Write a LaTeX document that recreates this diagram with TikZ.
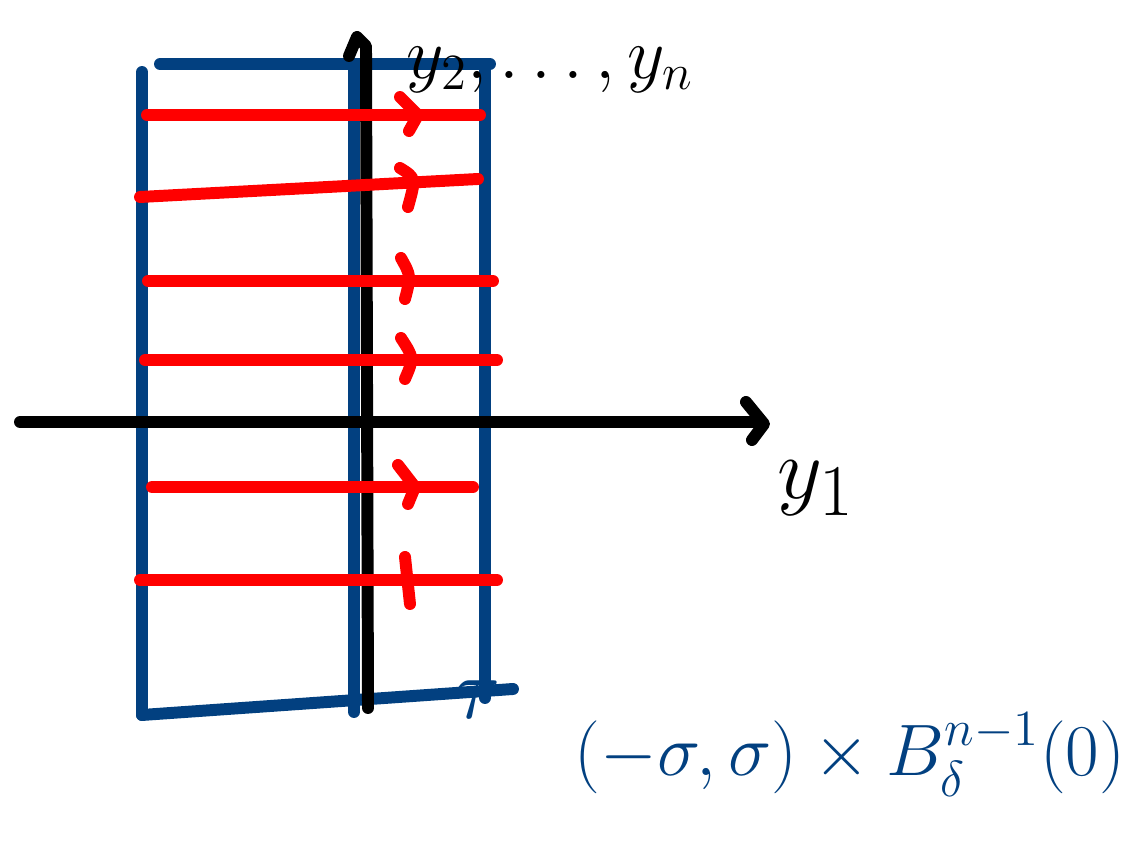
\documentclass[tikz,border=0pt]{standalone}
\usepackage{amsmath,amssymb}
\usetikzlibrary{arrows.meta}
\definecolor{inkblue}{RGB}{2, 64, 128}
\definecolor{inkred}{RGB}{255, 0, 0}

\begin{document}
\begin{tikzpicture}[x=0.01cm, y=-0.01cm, line cap=round, line join=round]
  \useasboundingbox (0,0) rectangle (1141,849);
  \tikzset{
    pen/.style={line width=3.4pt},
    redpen/.style={pen, inkred},
    bluepen/.style={pen, inkblue}
  }

  % Zylinder (blau)
  \draw[bluepen] (142,72) -- (142,715);
  \draw[bluepen] (160,64) -- (490,64);
  \draw[bluepen] (485,64) -- (485,698);
  \draw[bluepen] (354,64) -- (354,712);
  \draw[bluepen] (142,715) -- (513,689);

  % Achsen
  \draw[pen] (20,422) -- (762,422);
  \draw[pen] (746,402) -- (764,424) -- (752,440);
  \draw[pen] (368,708) -- (366,46) -- (357,37) -- (349,56);

  % Flusslinien (rot)
  \draw[redpen] (147,115) -- (480,115);
  \draw[redpen] (400,97) -- (418,115) -- (409,131);
  \draw[redpen] (140,197) -- (478,179);
  \draw[redpen] (400,168) .. controls (416,178) .. (408,207);
  \draw[redpen] (148,281) -- (493,281);
  \draw[redpen] (401,258) .. controls (411,276) .. (405,299);
  \draw[redpen] (145,360) -- (497,360);
  \draw[redpen] (401,338) .. controls (414,358) .. (405,379);
  \draw[redpen] (152,487) -- (473,487);
  \draw[redpen] (398,465) -- (415,487) -- (408,504);
  \draw[redpen] (140,580) -- (497,580);
  \draw[redpen] (405,557) -- (410,604);

  % Beschriftungen
  \node[font=\fontsize{21}{25}\selectfont] (lblvert) at (550,70) {$y_2,\dots,y_n$};
  \node[font=\fontsize{28}{32}\selectfont] (lblhor) at (816,488) {$y_1$};
  \node[inkblue, font=\fontsize{32}{36}\selectfont] (lbltau) at (477,700) {$\tau$};
  \node[inkblue, font=\fontsize{21}{25}\selectfont] (lblset) at (850,755)
    {$(-\sigma,\sigma)\times B^{n-1}_{\delta}(0)$};
\end{tikzpicture}
\end{document}
